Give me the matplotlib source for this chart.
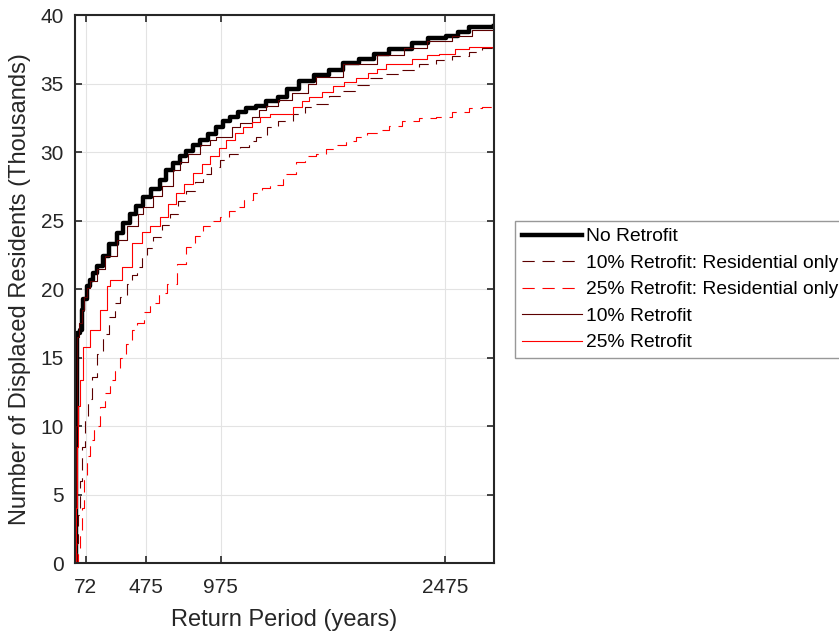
import matplotlib
matplotlib.use("Agg")
import matplotlib.pyplot as plt

plt.rcParams['font.family'] = ['Liberation Sans', 'DejaVu Sans']

# Return period (years) and displaced residents (thousands) for each scenario
rp_none = [1, 4, 8, 12, 15, 35, 45, 55, 78, 100, 122, 150, 189, 230, 278, 320, 367, 410,
           456, 510, 567, 610, 654, 700, 745, 790, 834, 890, 945, 990, 1034, 1090, 1145,
           1210, 1279, 1354, 1420, 1500, 1600, 1700, 1788, 1900, 2000, 2100, 2254, 2360,
           2481, 2560, 2635, 2800]
val_none = [0, 5, 10, 14, 16.8, 17.0, 18.5, 19.3, 20.2, 20.7, 21.2, 21.7, 22.4, 23.3, 24.1,
            24.8, 25.5, 26.1, 26.7, 27.3, 28.0, 28.7, 29.2, 29.7, 30.1, 30.5, 30.9, 31.3,
            31.8, 32.3, 32.6, 32.9, 33.2, 33.4, 33.7, 34.0, 34.6, 35.2, 35.6, 36.0, 36.5,
            36.8, 37.2, 37.5, 38.0, 38.3, 38.5, 38.8, 39.1, 39.2]

rp_res10 = [2, 10, 20, 35, 50, 70, 90, 113, 150, 185, 230, 269, 300, 345, 380, 412, 447,
            480, 522, 580, 634, 690, 745, 800, 856, 910, 967, 1030, 1100, 1160, 1212, 1280,
            1354, 1454, 1540, 1612, 1700, 1788, 1870, 1968, 2050, 2188, 2300, 2413, 2520,
            2635, 2720, 2800]
val_res10 = [0, 1.5, 3.5, 6, 8.5, 10.5, 12.0, 13.6, 15.3, 16.7, 18.0, 19.0, 19.4, 20.4,
             21.0, 21.6, 22.4, 23.0, 23.8, 24.7, 25.5, 26.4, 27.2, 27.8, 28.4, 28.9, 29.4,
             29.9, 30.4, 30.8, 31.1, 31.8, 32.3, 32.8, 33.3, 33.5, 34.1, 34.5, 34.9, 35.4,
             35.7, 36.0, 36.4, 36.7, 37.0, 37.3, 37.6, 37.8]

rp_res25 = [3, 20, 35, 45, 58, 80, 100, 130, 167, 202, 233, 269, 300, 340, 380, 412, 460,
            500, 560, 612, 680, 745, 800, 856, 910, 967, 1030, 1079, 1130, 1189, 1250, 1300,
            1389, 1479, 1540, 1612, 1680, 1745, 1810, 1879, 1950, 2023, 2100, 2188, 2300,
            2413, 2520, 2635, 2720, 2800]
val_res25 = [0, 1.0, 2.4, 4.0, 6.1, 7.8, 9.0, 10.0, 11.4, 12.4, 13.4, 14.0, 15.0, 16.0,
             17.0, 17.5, 18.3, 19.0, 19.7, 20.4, 21.8, 23.1, 23.9, 24.6, 25.0, 25.3, 25.7,
             26.0, 26.5, 27.0, 27.4, 27.6, 28.4, 29.3, 29.7, 29.9, 30.2, 30.5, 30.8, 31.1,
             31.4, 31.6, 31.9, 32.3, 32.5, 32.6, 32.9, 33.2, 33.3, 33.4]

rp_all10 = [1, 4, 8, 12, 16, 30, 45, 60, 80, 100, 150, 200, 278, 350, 420, 456, 520, 580,
            654, 700, 755, 834, 900, 945, 1050, 1100, 1180, 1230, 1279, 1354, 1450, 1560,
            1610, 1788, 2020, 2200, 2350, 2520, 2650, 2800]
val_all10 = [0, 5, 10, 14, 16.5, 17.5, 18.5, 19.4, 20.1, 20.6, 21.5, 22.4, 23.6, 24.6,
             25.5, 26.0, 26.8, 27.5, 28.7, 29.3, 29.9, 30.5, 30.9, 31.1, 31.8, 32.1, 32.6,
             33.1, 33.4, 33.8, 34.3, 35.0, 35.5, 36.4, 37.1, 37.6, 38.1, 38.5, 38.9, 39.2]

rp_all25 = [1, 6, 11, 22, 33, 55, 100, 167, 211, 233, 269, 313, 380, 447, 500, 567, 620,
            678, 730, 789, 850, 900, 960, 1012, 1070, 1123, 1180, 1234, 1300, 1454, 1520,
            1567, 1650, 1721, 1800, 1879, 1960, 2021, 2079, 2254, 2350, 2435, 2540, 2635,
            2800]
val_all25 = [0, 4, 8.5, 11.5, 13.4, 15.8, 17.0, 18.5, 20.2, 20.7, 20.7, 21.6, 23.4, 24.2,
             24.6, 25.3, 26.2, 27.0, 27.7, 28.5, 29.1, 29.7, 30.3, 30.9, 31.4, 31.8, 32.2,
             32.6, 32.8, 33.3, 33.7, 34.0, 34.4, 34.8, 35.1, 35.4, 35.8, 36.1, 36.4, 36.8,
             37.1, 37.2, 37.5, 37.7, 37.9]

labels = ["No Retrofit", "10% Retrofit: Residential only", "25% Retrofit: Residential only",
          "10% Retrofit", "25% Retrofit"]
xticks = [72, 475, 975, 2475]
yticks = [0, 5, 10, 15, 20, 25, 30, 35, 40]

maroon = "#5c0000"
red = "#ff0000"
dash = (0, (11, 7))

fig = plt.figure(figsize=(8.39, 6.32), dpi=100)
ax = fig.add_axes([0.0894, 0.109, 0.4994, 0.867])

ax.plot(rp_none, val_none, drawstyle="steps-post", color="black", lw=3.2, label=labels[0])
ax.plot(rp_res10, val_res10, drawstyle="steps-post", color=maroon, lw=0.8, ls=dash, label=labels[1])
ax.plot(rp_res25, val_res25, drawstyle="steps-post", color=red, lw=0.8, ls=dash, label=labels[2])
ax.plot(rp_all10, val_all10, drawstyle="steps-post", color=maroon, lw=0.8, label=labels[3])
ax.plot(rp_all25, val_all25, drawstyle="steps-post", color=red, lw=0.8, label=labels[4])

ax.set_xlim(0, 2800)
ax.set_ylim(0, 40)
ax.set_xticks(xticks)
ax.set_yticks(yticks)
ax.grid(True, color="#e3e3e3", lw=0.8)
ax.set_axisbelow(True)

axis_col = "#262626"
for s in ax.spines.values():
    s.set_color(axis_col)
    s.set_linewidth(1.5)
ax.tick_params(direction="in", top=True, right=True, length=5, width=1.2,
               color=axis_col, labelcolor=axis_col, labelsize=15)
ax.tick_params(axis="x", pad=11)
ax.tick_params(axis="y", pad=8)

ax.set_xlabel("Return Period (years)", fontsize=17, color=axis_col, labelpad=8)
ax.set_ylabel("Number of Displaced Residents (Thousands)", fontsize=17, color=axis_col,
              labelpad=7)

leg = ax.legend(loc="upper left", bbox_to_anchor=(0.6138, 0.6503),
                bbox_transform=fig.transFigure, fontsize=13.85, frameon=True,
                fancybox=False, edgecolor="#7f7f7f", handlelength=3.1,
                handletextpad=0.25, labelspacing=0.47, borderpad=0.36, borderaxespad=0)
leg.get_frame().set_linewidth(1.0)
for t in leg.get_texts():
    t.set_color("black")

fig.savefig("out.png", dpi=100)
